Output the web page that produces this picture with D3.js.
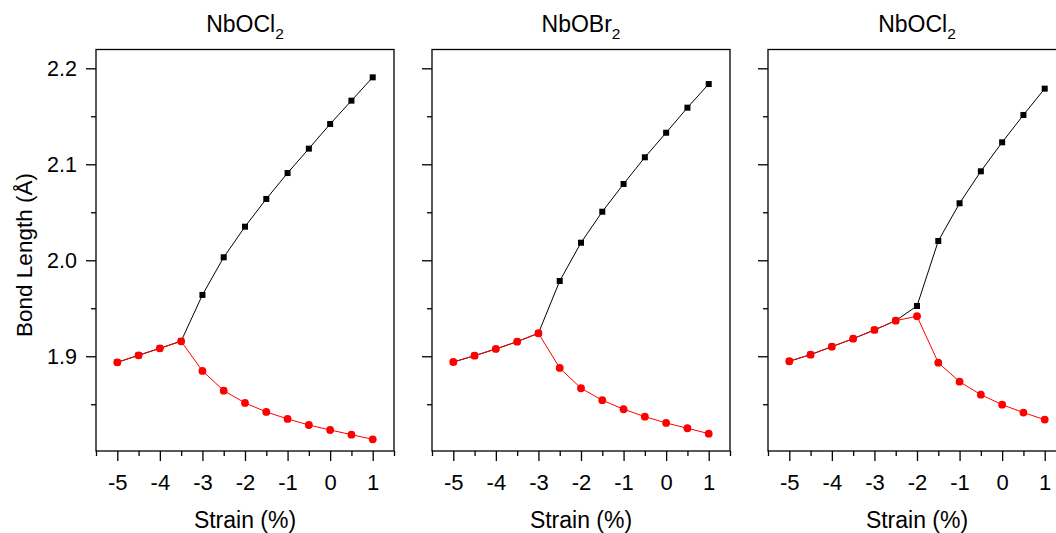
<!DOCTYPE html>
<html>
<head>
<meta charset="utf-8">
<script src="https://cdn.jsdelivr.net/npm/d3@7"></script>
<style>
  html, body { margin: 0; padding: 0; background: #fff; }
  svg { display: block; font-family: "Liberation Sans", Arial, sans-serif; }
</style>
</head>
<body>
<svg id="chart" width="1056" height="533"></svg>
<script>
// Strain values (%) shared by every panel
const strain = [-5, -4.5, -4, -3.5, -3, -2.5, -2, -1.5, -1, -0.5, 0, 0.5, 1];

// Panel titles: formula base and subscript
const titleBase = ["NbOCl", "NbOBr", "NbOCl"];
const titleSub = ["2", "2", "2"];

// Longer Nb–O bond (black squares); merges with the short bond below the transition
const longBond1 = [1.8937, 1.9010, 1.9083, 1.9158, 1.9639, 2.0031, 2.0350, 2.0639, 2.0909, 2.1163, 2.1420, 2.1663, 2.1906];
const longBond2 = [1.8940, 1.9006, 1.9076, 1.9152, 1.9240, 1.9784, 2.0183, 2.0506, 2.0795, 2.1073, 2.1329, 2.1590, 2.1836];
const longBond3 = [1.8948, 1.9017, 1.9100, 1.9183, 1.9274, 1.9371, 1.9524, 2.0201, 2.0594, 2.0927, 2.1229, 2.1514, 2.1788];

// Shorter Nb–O bond (red circles)
const shortBond1 = [1.8937, 1.9010, 1.9083, 1.9156, 1.8847, 1.8642, 1.8514, 1.8420, 1.8347, 1.8284, 1.8232, 1.8183, 1.8135];
const shortBond2 = [1.8940, 1.9006, 1.9076, 1.9152, 1.9240, 1.8878, 1.8667, 1.8542, 1.8448, 1.8371, 1.8305, 1.8250, 1.8194];
const shortBond3 = [1.8948, 1.9017, 1.9100, 1.9183, 1.9274, 1.9371, 1.9417, 1.8933, 1.8735, 1.8600, 1.8496, 1.8413, 1.8340];

// Axis ticks
const xMajorTicks = [-5, -4, -3, -2, -1, 0, 1];
const xMinorTicks = [-5.5, -4.5, -3.5, -2.5, -1.5, -0.5, 0.5, 1.5];
const yMajorTicks = [1.9, 2.0, 2.1, 2.2];
const yMinorTicks = [1.85, 1.95, 2.05, 2.15];

const xLabel = "Strain (%)";
const yLabel = "Bond Length (Å)";

const longSeries = [longBond1, longBond2, longBond3];
const shortSeries = [shortBond1, shortBond2, shortBond3];

const svg = d3.select("#chart");

const panelLefts = [96, 432, 768];
const panelWidth = 298;
const plotTop = 49.5, plotBottom = 451;

const y = d3.scaleLinear().domain([1.8013, 2.2196]).range([plotBottom, plotTop]);

panelLefts.forEach((left, i) => {
  const x = d3.scaleLinear().domain([-5.5, 1.5]).range([left, left + panelWidth]);
  const g = svg.append("g");

  // Series lines and markers
  const line = d3.line().x((d, k) => x(strain[k])).y(d => y(d));

  g.append("path")
    .datum(longSeries[i])
    .attr("d", line)
    .attr("fill", "none")
    .attr("stroke", "#000")
    .attr("stroke-width", 1);

  const sq = 6;
  g.selectAll("rect.sq")
    .data(longSeries[i])
    .join("rect")
    .attr("class", "sq")
    .attr("x", (d, k) => x(strain[k]) - sq / 2)
    .attr("y", d => y(d) - sq / 2)
    .attr("width", sq)
    .attr("height", sq)
    .attr("fill", "#000");

  g.append("path")
    .datum(shortSeries[i])
    .attr("d", line)
    .attr("fill", "none")
    .attr("stroke", "#ff0000")
    .attr("stroke-width", 1);

  g.selectAll("circle.dot")
    .data(shortSeries[i])
    .join("circle")
    .attr("class", "dot")
    .attr("cx", (d, k) => x(strain[k]))
    .attr("cy", d => y(d))
    .attr("r", 3.9)
    .attr("fill", "#ff0000");

  // Frame
  g.append("rect")
    .attr("x", left)
    .attr("y", plotTop)
    .attr("width", panelWidth)
    .attr("height", plotBottom - plotTop)
    .attr("fill", "none")
    .attr("stroke", "#000")
    .attr("stroke-width", 1.3);

  // Bottom axis: major and minor ticks
  const xAxisMajor = d3.axisBottom(x).tickValues(xMajorTicks).tickSize(10).tickPadding(13)
    .tickFormat(d => d3.format("d")(d).replace("−", "-"));
  const xAxisMinor = d3.axisBottom(x).tickValues(xMinorTicks).tickSize(5).tickFormat("");

  const gx = g.append("g").attr("transform", `translate(0,${plotBottom})`).call(xAxisMajor);
  const gx2 = g.append("g").attr("transform", `translate(0,${plotBottom})`).call(xAxisMinor);
  [gx, gx2].forEach(a => {
    a.select(".domain").remove();
    a.selectAll("line").attr("stroke", "#000").attr("stroke-width", 1.3);
  });
  gx.selectAll("text")
    .attr("font-size", 22)
    .attr("font-family", "Liberation Sans, Arial, sans-serif")
    .attr("fill", "#000");

  // Left axis: major and minor ticks (labels only on the first panel)
  const yAxisMajor = d3.axisLeft(y).tickValues(yMajorTicks).tickSize(10).tickPadding(9)
    .tickFormat(i === 0 ? d3.format(".1f") : "");
  const yAxisMinor = d3.axisLeft(y).tickValues(yMinorTicks).tickSize(5).tickFormat("");

  const gy = g.append("g").attr("transform", `translate(${left},0)`).call(yAxisMajor);
  const gy2 = g.append("g").attr("transform", `translate(${left},0)`).call(yAxisMinor);
  [gy, gy2].forEach(a => {
    a.select(".domain").remove();
    a.selectAll("line").attr("stroke", "#000").attr("stroke-width", 1.3);
  });
  gy.selectAll("text")
    .attr("font-size", 21.5)
    .attr("font-family", "Liberation Sans, Arial, sans-serif")
    .attr("fill", "#000");

  // Panel title with subscript
  const cx = left + panelWidth / 2;
  const t = g.append("text")
    .attr("x", cx)
    .attr("y", 32)
    .attr("text-anchor", "middle")
    .attr("font-size", 23)
    .attr("fill", "#000");
  t.append("tspan").text(titleBase[i]);
  t.append("tspan").attr("font-size", 15.5).attr("dy", 7).text(titleSub[i]);

  // X axis label
  g.append("text")
    .attr("x", cx)
    .attr("y", 528)
    .attr("text-anchor", "middle")
    .attr("font-size", 23)
    .attr("fill", "#000")
    .text(xLabel);
});

// Y axis label
svg.append("text")
  .attr("transform", `translate(32,255) rotate(-90)`)
  .attr("text-anchor", "middle")
  .attr("font-size", 22.5)
  .attr("fill", "#000")
  .text(yLabel);
</script>
</body>
</html>
